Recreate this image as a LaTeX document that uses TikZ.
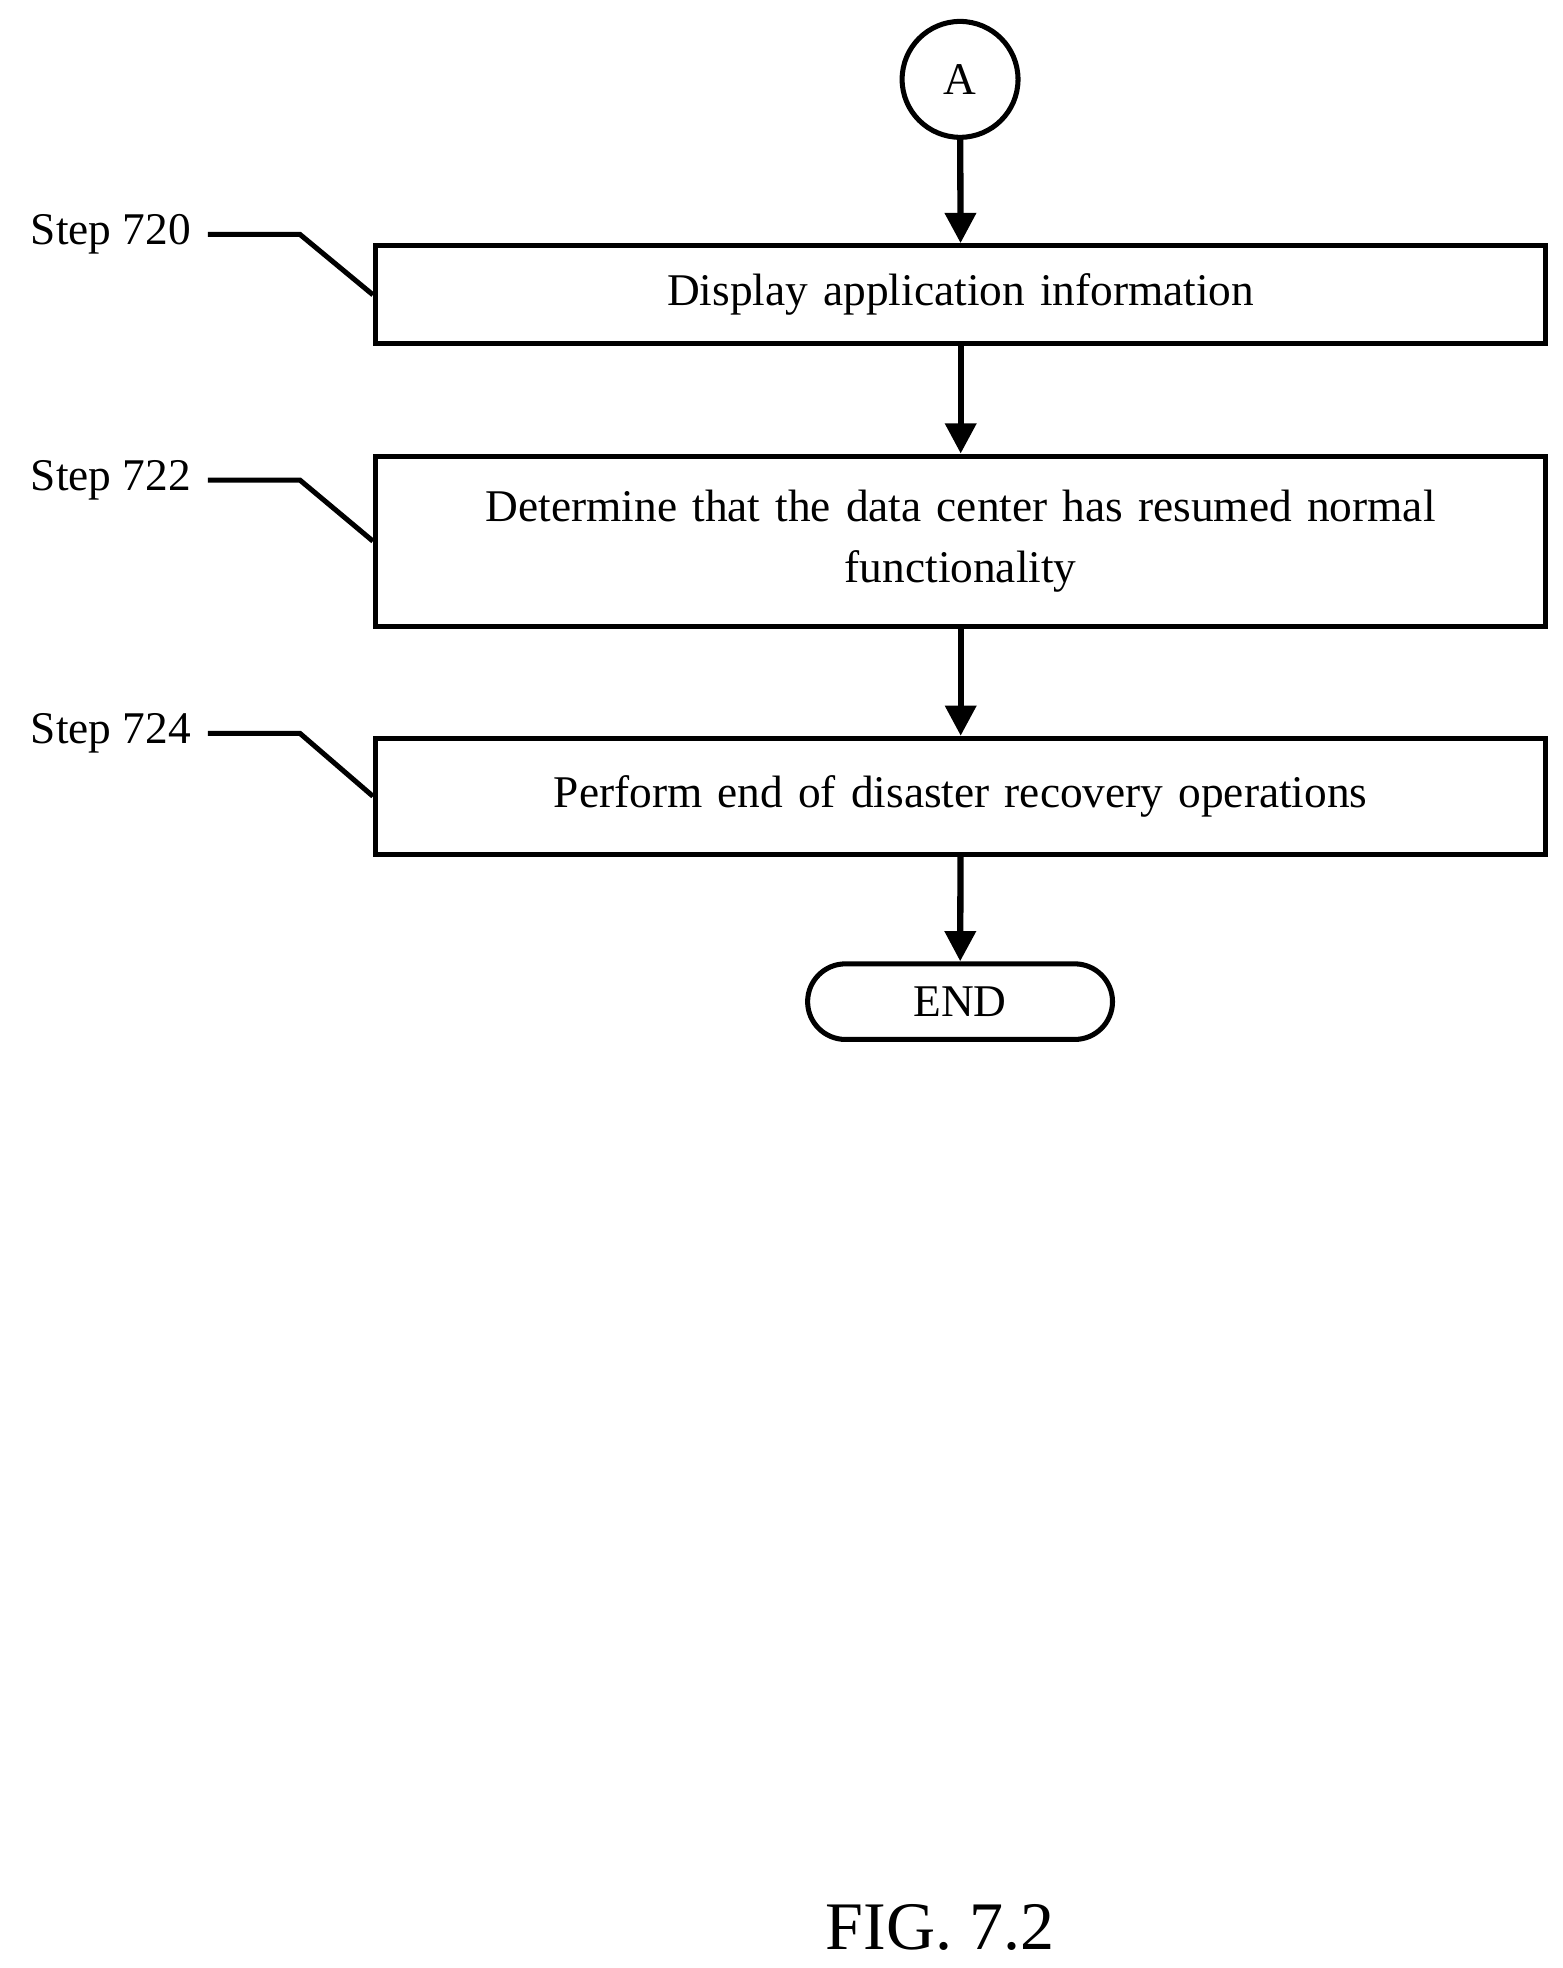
\documentclass[tikz,border=0pt]{standalone}
\usepackage{fontspec}
\setmainfont{Liberation Serif}
\usetikzlibrary{arrows.meta}
\begin{document}
\begin{tikzpicture}[x=0.5pt,y=-0.5pt,
  box/.style={draw,line width=2pt,minimum height=#1,inner sep=0pt,align=center,text width=440pt,font=\fontsize{18}{24}\selectfont},
  arr/.style={line width=2.5pt,-{Triangle[length=12pt,width=12pt]}},
  lead/.style={line width=2pt},
  lbl/.style={font=\fontsize{18}{22}\selectfont,anchor=east,inner sep=0pt}]
\useasboundingbox (0,0) rectangle (1240,1562);
\node[draw,circle,line width=2pt,minimum size=46pt,inner sep=0pt,font=\fontsize{18}{22}\selectfont] (a) at (762,63) {A};
\node[box=39pt,minimum width=464.5pt] (b1) at (762.5,234) {Display application information};
\node[box=67.5pt,minimum width=464.5pt] (b2) at (762.5,429.5) {Determine that the data center has resumed normal\\functionality};
\node[box=46pt,minimum width=464.5pt] (b3) at (762.5,632) {Perform end of disaster recovery operations};
\node[draw,rounded corners=15pt,line width=2pt,minimum width=121pt,minimum height=30pt,inner sep=0pt,font=\fontsize{18}{22}\selectfont] (e) at (762,795) {END};
\draw[arr] (a) -- (b1);
\draw[arr] (b1) -- (b2);
\draw[arr] (b2) -- (b3);
\draw[arr] (b3) -- (e);
\node[lbl] (s1) at (152,186) {Step 720};
\node[lbl] (s2) at (152,381) {Step 722};
\node[lbl] (s3) at (152,582) {Step 724};
\coordinate (k1) at (238,186);
\coordinate (k2) at (238,381);
\coordinate (k3) at (238,582);
\draw[lead] (165,186) -- (k1) -- (b1.west);
\draw[lead] (165,381) -- (k2) -- (b2.west);
\draw[lead] (165,582) -- (k3) -- (b3.west);
\node[font=\fontsize{27}{32}\selectfont] (fig) at (746,1530) {FIG. 7.2};
\end{tikzpicture}
\end{document}
